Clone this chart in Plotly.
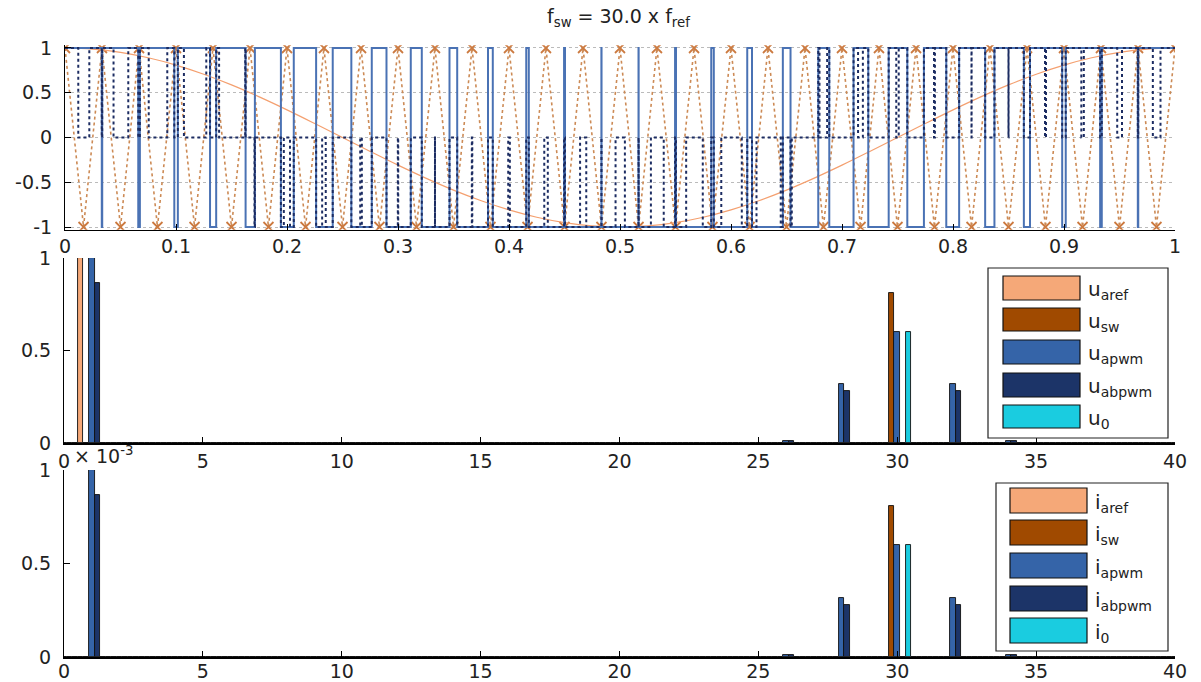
import numpy as np
import plotly.graph_objects as go

W, H = 1201, 682
FONT = "DejaVu Sans"

# ---- time-domain data (one fundamental period, normalised time) ----
t_ref = [0.000, 0.025, 0.050, 0.075, 0.100, 0.125, 0.150, 0.175, 0.200, 0.225,
         0.250, 0.275, 0.300, 0.325, 0.350, 0.375, 0.400, 0.425, 0.450, 0.475,
         0.500, 0.525, 0.550, 0.575, 0.600, 0.625, 0.650, 0.675, 0.700, 0.725,
         0.750, 0.775, 0.800, 0.825, 0.850, 0.875, 0.900, 0.925, 0.950, 0.975, 1.000]
# phase-a reference
u_aref = [1.000, 0.988, 0.951, 0.891, 0.809, 0.707, 0.588, 0.454, 0.309, 0.156,
          0.000, -0.156, -0.309, -0.454, -0.588, -0.707, -0.809, -0.891, -0.951, -0.988,
          -1.000, -0.988, -0.951, -0.891, -0.809, -0.707, -0.588, -0.454, -0.309, -0.156,
          0.000, 0.156, 0.309, 0.454, 0.588, 0.707, 0.809, 0.891, 0.951, 0.988, 1.000]
# phase-b reference (lags phase a by a third of a period)
u_bref = [-0.500, -0.358, -0.208, -0.052, 0.105, 0.259, 0.407, 0.545, 0.669, 0.777,
          0.866, 0.934, 0.978, 0.999, 0.995, 0.966, 0.914, 0.839, 0.743, 0.629,
          0.500, 0.358, 0.208, 0.052, -0.105, -0.259, -0.407, -0.545, -0.669, -0.777,
          -0.866, -0.934, -0.978, -0.999, -0.995, -0.966, -0.914, -0.839, -0.743, -0.629, -0.500]

# triangular carrier vertices, f_sw = 30 f_ref
t_carrier = [0.0000, 0.0167, 0.0333, 0.0500, 0.0667, 0.0833, 0.1000, 0.1167, 0.1333, 0.1500,
             0.1667, 0.1833, 0.2000, 0.2167, 0.2333, 0.2500, 0.2667, 0.2833, 0.3000, 0.3167,
             0.3333, 0.3500, 0.3667, 0.3833, 0.4000, 0.4167, 0.4333, 0.4500, 0.4667, 0.4833,
             0.5000, 0.5167, 0.5333, 0.5500, 0.5667, 0.5833, 0.6000, 0.6167, 0.6333, 0.6500,
             0.6667, 0.6833, 0.7000, 0.7167, 0.7333, 0.7500, 0.7667, 0.7833, 0.8000, 0.8167,
             0.8333, 0.8500, 0.8667, 0.8833, 0.9000, 0.9167, 0.9333, 0.9500, 0.9667, 0.9833, 1.0000]
u_carrier = [1, -1, 1, -1, 1, -1, 1, -1, 1, -1, 1, -1, 1, -1, 1, -1, 1, -1, 1, -1,
             1, -1, 1, -1, 1, -1, 1, -1, 1, -1, 1, -1, 1, -1, 1, -1, 1, -1, 1, -1,
             1, -1, 1, -1, 1, -1, 1, -1, 1, -1, 1, -1, 1, -1, 1, -1, 1, -1, 1, -1, 1]

# ---- harmonic spectra (order, normalised amplitude) ----
harmonics = list(range(41))
u_aref_ord, u_aref_amp = [1], [1.0]
u_sw_ord, u_sw_amp = [30], [0.81]
u_apwm_ord, u_apwm_amp = [1, 26, 28, 30, 32, 34], [1.0, 0.012, 0.32, 0.60, 0.32, 0.012]
u_abpwm_ord, u_abpwm_amp = [1, 26, 28, 32, 34], [0.866, 0.010, 0.28, 0.28, 0.010]
u_0_ord, u_0_amp = [30], [0.60]

i_aref_ord, i_aref_amp = [], []
i_sw_ord, i_sw_amp = [30], [0.81]
i_apwm_ord, i_apwm_amp = [1, 26, 28, 30, 32, 34], [1.0, 0.012, 0.315, 0.60, 0.315, 0.012]
i_abpwm_ord, i_abpwm_amp = [1, 26, 28, 32, 34], [0.866, 0.010, 0.28, 0.28, 0.010]
i_0_ord, i_0_amp = [30], [0.60]

bar_colors = ["#F5A878", "#A04A00", "#3564A8", "#1C3468", "#1ACCE0"]
u_names = ["u<sub>aref</sub>", "u<sub>sw</sub>", "u<sub>apwm</sub>", "u<sub>abpwm</sub>", "u<sub>0</sub>"]
i_names = ["i<sub>aref</sub>", "i<sub>sw</sub>", "i<sub>apwm</sub>", "i<sub>abpwm</sub>", "i<sub>0</sub>"]


def spectrum(orders, amps):
    full = np.zeros(len(harmonics))
    for h, a in zip(orders, amps):
        full[h] = a
    return full


# ---- sine-triangle comparison ----
tt = np.linspace(0.0, 1.0, 30001)
car = np.interp(tt, t_carrier, u_carrier)
pwm_a = np.where(np.interp(tt, t_ref, u_aref) >= car, 1.0, -1.0)
pwm_b = np.where(np.interp(tt, t_ref, u_bref) >= car, 1.0, -1.0)
pwm_ab = (pwm_a - pwm_b) / 2.0


def step_edges(sig):
    idx = np.flatnonzero(np.diff(sig)) + 1
    xs = np.concatenate(([tt[0]], tt[idx], [tt[-1]]))
    ys = np.concatenate(([sig[0]], sig[idx], [sig[-1]]))
    return xs, ys


fig = go.Figure()

fig.add_trace(go.Scatter(x=t_carrier, y=u_carrier, mode="lines+markers",
                         line=dict(color="#CC8A55", width=1.6, dash="dot"),
                         marker=dict(symbol="x-thin", size=10, line=dict(color="#CC7A40", width=1.8)),
                         xaxis="x", yaxis="y", showlegend=False))
fig.add_trace(go.Scatter(x=t_ref, y=u_aref, mode="lines",
                         line=dict(color="#F4A070", width=1.2, shape="spline"),
                         xaxis="x", yaxis="y", showlegend=False))
xa, ya = step_edges(pwm_a)
fig.add_trace(go.Scatter(x=xa, y=ya, mode="lines", line=dict(color="#4A72B4", width=2, shape="hv"),
                         xaxis="x", yaxis="y", showlegend=False))
xab, yab = step_edges(pwm_ab)
fig.add_trace(go.Scatter(x=xab, y=yab, mode="lines", line=dict(color="#1C2C62", width=2, dash="dot", shape="hv"),
                         xaxis="x", yaxis="y", showlegend=False))

u_series = [(u_aref_ord, u_aref_amp), (u_sw_ord, u_sw_amp), (u_apwm_ord, u_apwm_amp),
            (u_abpwm_ord, u_abpwm_amp), (u_0_ord, u_0_amp)]
i_series = [(i_aref_ord, i_aref_amp), (i_sw_ord, i_sw_amp), (i_apwm_ord, i_apwm_amp),
            (i_abpwm_ord, i_abpwm_amp), (i_0_ord, i_0_amp)]

for (o, a), c in zip(u_series, bar_colors):
    fig.add_trace(go.Bar(x=harmonics, y=spectrum(o, a), marker=dict(color=c, line=dict(color="#111111", width=0.9)),
                         xaxis="x2", yaxis="y2", showlegend=False))
for (o, a), c in zip(i_series, bar_colors):
    fig.add_trace(go.Bar(x=harmonics, y=spectrum(o, a), marker=dict(color=c, line=dict(color="#111111", width=0.9)),
                         xaxis="x3", yaxis="y3", showlegend=False))

xdom = [65 / W, 1175 / W]
axis_common = dict(showline=True, linecolor="black", linewidth=1, ticks="inside", ticklen=6,
                   tickcolor="black", zeroline=False, showgrid=False, automargin=False,
                   tickfont=dict(family=FONT, size=19, color="#222"))

fig.update_layout(
    width=W, height=H, margin=dict(l=0, r=0, t=0, b=0, pad=0),
    paper_bgcolor="white", plot_bgcolor="white",
    barmode="group", bargap=0.0, bargroupgap=0.0,
    xaxis=dict(domain=xdom, range=[0, 1], anchor="y", ticklabelstandoff=-1,
               tickvals=[0, 0.1, 0.2, 0.3, 0.4, 0.5, 0.6, 0.7, 0.8, 0.9, 1],
               ticktext=["0", "0.1", "0.2", "0.3", "0.4", "0.5", "0.6", "0.7", "0.8", "0.9", "1"],
               **axis_common),
    yaxis=dict(domain=[1 - 229.7 / H, 1 - 45.3 / H], range=[-1.03, 1.03], anchor="x",
               tickvals=[-1, -0.5, 0, 0.5, 1], ticktext=["-1", "-0.5", "0", "0.5", "1"],
               ticklabelstandoff=8,
               **{**axis_common, "showgrid": True}, gridcolor="#BBBBBB", griddash="dot", gridwidth=1),
    xaxis2=dict(domain=[64 / W, 1175 / W], range=[0, 40], anchor="y2",
                tickvals=[0, 5, 10, 15, 20, 25, 30, 35, 40], **{**axis_common, "linewidth": 2}),
    yaxis2=dict(domain=[1 - 443 / H, 1 - 258 / H], range=[0, 1], anchor="x2",
                tickvals=[0, 0.5, 1], ticktext=["0", "0.5", "1"], ticklabelstandoff=8, **axis_common),
    xaxis3=dict(domain=[64 / W, 1175 / W], range=[0, 40], anchor="y3", ticklabelstandoff=-4,
                tickvals=[0, 5, 10, 15, 20, 25, 30, 35, 40], **{**axis_common, "linewidth": 2}),
    yaxis3=dict(domain=[1 - 657 / H, 1 - 470 / H], range=[0, 1], anchor="x3",
                tickvals=[0, 0.5, 1], ticktext=["0", "0.5", "1"], ticklabelstandoff=8, **axis_common),
)

annotations = [
    dict(text="f<sub>sw</sub> = 30.0 x f<sub>ref</sub>", x=618 / W, y=1 - 18 / H, xref="paper", yref="paper",
         showarrow=False, xanchor="center", yanchor="middle", font=dict(family=FONT, size=19, color="#222")),
    dict(text="× 10<sup>-3</sup>", x=72 / W, y=1 - 455 / H, xref="paper", yref="paper",
         showarrow=False, xanchor="left", yanchor="middle", font=dict(family=FONT, size=19, color="#222")),
]
shapes = []


def px_x(p):
    return p / W


def px_y(p):
    return 1 - p / H


def draw_legend(box, rect_x, rows, text_x, names):
    shapes.append(dict(type="rect", xref="paper", yref="paper", layer="above",
                       x0=px_x(box[0]), x1=px_x(box[1]), y0=px_y(box[3]), y1=px_y(box[2]),
                       fillcolor="white", line=dict(color="#222", width=1.2)))
    for (r0, r1), c, name in zip(rows, bar_colors, names):
        shapes.append(dict(type="rect", xref="paper", yref="paper", layer="above",
                           x0=px_x(rect_x[0]), x1=px_x(rect_x[1]), y0=px_y(r1), y1=px_y(r0),
                           fillcolor=c, line=dict(color="#111", width=1.2)))
        annotations.append(dict(text=name, x=px_x(text_x), y=px_y((r0 + r1) / 2 + 2), xref="paper", yref="paper",
                                showarrow=False, xanchor="left", yanchor="middle",
                                font=dict(family=FONT, size=20, color="#222")))


draw_legend((988, 1168, 268, 438), (1003, 1080),
            [(276, 300), (308, 331), (340, 364), (373, 397), (405, 428)], 1086, u_names)
draw_legend((996, 1168, 483, 651), (1010, 1087),
            [(488, 513), (520, 545), (553, 578), (586, 611), (618, 643)], 1093, i_names)

fig.update_layout(annotations=annotations, shapes=shapes)
fig.write_html("out.html")
